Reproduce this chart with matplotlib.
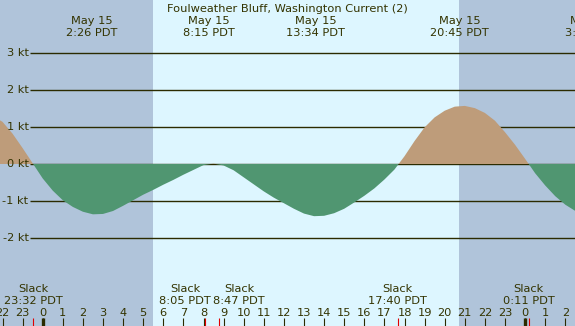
import matplotlib
matplotlib.use("Agg")
import matplotlib.pyplot as plt
import matplotlib.transforms as mtransforms
import numpy as np

# ---- data (hours relative to midnight of May 15, PDT) ----
hours = [h / 2 for h in range(-5, 56)]  # -2.5 .. 27.5 every half hour
speed = [1.30, 1.14, 0.82, 0.43, 0.02, -0.39, -0.72, -0.98, -1.16, -1.29,
         -1.36, -1.35, -1.27, -1.13, -0.98, -0.83, -0.70, -0.56, -0.43, -0.29,
         -0.16, -0.03, 0.01, -0.04, -0.17, -0.36, -0.55, -0.74, -0.91, -1.06,
         -1.21, -1.34, -1.41, -1.40, -1.33, -1.21, -1.04, -0.86, -0.66, -0.42,
         -0.15, 0.21, 0.62, 0.99, 1.26, 1.44, 1.55, 1.57, 1.51, 1.38,
         1.17, 0.86, 0.52, 0.14, -0.25, -0.58, -0.87, -1.10, -1.27, -1.35,
         -1.36]

slack_times = [-0.467, 8.083, 8.783, 17.667, 24.183]
slack_labels = ["23:32 PDT", "8:05 PDT", "8:47 PDT", "17:40 PDT", "0:11 PDT"]

peak_times = [2.433, 8.25, 13.567, 20.75, 27.28]
peak_dates = ["May 15", "May 15", "May 15", "May 15", "May 16"]
peak_labels = ["2:26 PDT", "8:15 PDT", "13:34 PDT", "20:45 PDT", "3:17 PDT"]

sunrise = 5.47
sunset = 20.71

kt_levels = [3, 2, 1, 0, -1, -2]
hour_ticks = list(range(-2, 27))
hour_labels = [str(h % 24) for h in hour_ticks]
midnights = [0, 24]

title = "Foulweather Bluff, Washington Current (2)"

# ---- style ----
DAY = "#ddf6ff"
NIGHT = "#b0c4da"
FLOOD = "#be9c7a"
EBB = "#509671"
LINE = "#2b2b00"
TXT = "#333300"
FS = 8.2

W, H = 575, 326
PX_PER_H = 20.1
X0 = 42.7          # pixel of hour 0
PX_PER_KT = 37.0
Y0 = 164.0         # pixel of 0 kt (from top)

fig = plt.figure(figsize=(W / 100, H / 100), dpi=100)
ax = fig.add_axes([0, 0, 1, 1])
xmin, xmax = -X0 / PX_PER_H, (W - X0) / PX_PER_H
ax.set_xlim(xmin, xmax)
ax.set_ylim((Y0 - H) / PX_PER_KT, Y0 / PX_PER_KT)
ax.set_facecolor(DAY)
for s in ax.spines.values():
    s.set_visible(False)
ax.set_xticks([])
ax.set_yticks([])

ax.axvspan(xmin - 1, sunrise, color=NIGHT, lw=0, zorder=0)
ax.axvspan(sunset, xmax + 1, color=NIGHT, lw=0, zorder=0)

line_start = xmin + 30 / PX_PER_H
for lv in kt_levels:
    ax.hlines(lv, line_start, xmax + 1, color=LINE, lw=1.0, zorder=1)
    ax.text(xmin + 28.5 / PX_PER_H, lv, f"{lv} kt", ha="right", va="center",
            fontsize=FS, color=TXT, zorder=3)

h = np.array(hours)
v = np.array(speed)
ax.fill_between(h, v, 0, where=v >= 0, interpolate=True, color=FLOOD, lw=0, zorder=2)
ax.fill_between(h, v, 0, where=v <= 0, interpolate=True, color=EBB, lw=0, zorder=2)

trans = mtransforms.blended_transform_factory(ax.transData, ax.transAxes)


def yf(px):
    return 1 - px / H


ax.text(0.5, yf(11.5), title, transform=ax.transAxes, ha="center", va="baseline",
        fontsize=FS, color=TXT)
for t, d, lab in zip(peak_times, peak_dates, peak_labels):
    ax.text(t, yf(24.3), d, transform=trans, ha="center", va="baseline", fontsize=FS, color=TXT)
    ax.text(t, yf(35.7), lab, transform=trans, ha="center", va="baseline", fontsize=FS, color=TXT)

# slack labels: spread apart labels that would collide
renderer = fig.canvas.get_renderer()
centers = [X0 + t * PX_PER_H for t in slack_times]
widths = []
for lab in slack_labels:
    tmp = ax.text(0, 0, lab, fontsize=FS)
    widths.append(tmp.get_window_extent(renderer).width)
    tmp.remove()
GAP = 2.0
for i in range(len(centers) - 1):
    need = (widths[i] + widths[i + 1]) / 2 + GAP
    if centers[i + 1] - centers[i] < need:
        mid = (centers[i] + centers[i + 1]) / 2
        centers[i] = mid - need / 2
        centers[i + 1] = mid + need / 2
for c, lab in zip(centers, slack_labels):
    xd = (c - X0) / PX_PER_H
    ax.text(xd, yf(291.7), "Slack", transform=trans, ha="center", va="baseline", fontsize=FS, color=TXT)
    ax.text(xd, yf(304.0), lab, transform=trans, ha="center", va="baseline", fontsize=FS, color=TXT)

for t, lab in zip(hour_ticks, hour_labels):
    ax.text(t, yf(316.0), lab, transform=trans, ha="center", va="baseline", fontsize=FS, color=TXT)

tick_top = yf(318.0)
ax.vlines(hour_ticks, 0, tick_top, transform=trans, color=LINE, lw=0.8, zorder=4)
ax.vlines(midnights, 0, tick_top, transform=trans, color=LINE, lw=2.4, zorder=4)
ax.vlines(slack_times, 0, tick_top, transform=trans, color="#e00000", lw=0.8, zorder=5)

fig.savefig("out.png", dpi=100, facecolor=DAY)
